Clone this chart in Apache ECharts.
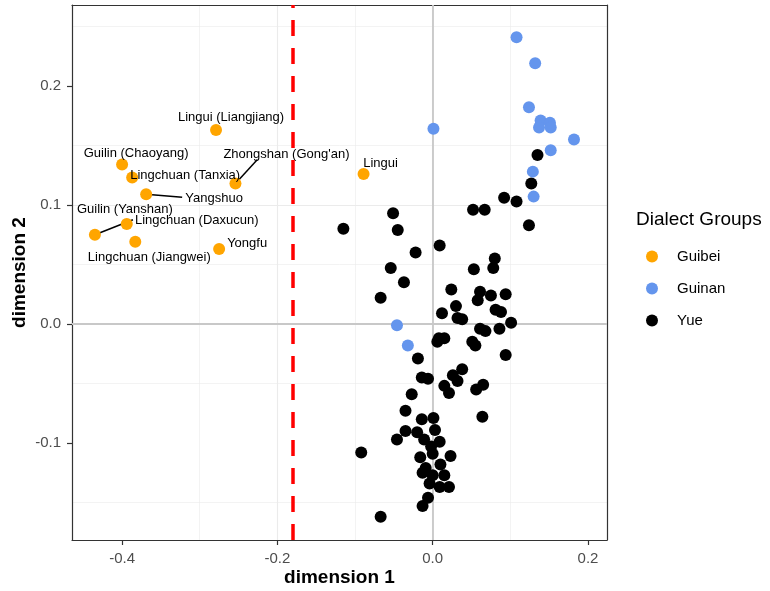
<!DOCTYPE html>
<html>
<head>
<meta charset="utf-8">
<title>Dialect Groups</title>
<script src="https://cdn.jsdelivr.net/npm/echarts@6/dist/echarts.min.js"></script>
<style>
  html, body { margin: 0; padding: 0; background: #fff; }
  #chart { width: 770px; height: 591px; }
</style>
</head>
<body>
<div id="chart"></div>
<script>
// Guibei sites (labelled)
const guibeiNames = ['Lingui (Liangjiang)', 'Guilin (Chaoyang)', 'Lingchuan (Tanxia)', "Zhongshan (Gong'an)", 'Yangshuo',
  'Lingchuan (Daxucun)', 'Guilin (Yanshan)', 'Lingchuan (Jiangwei)', 'Yongfu', 'Lingui'];
const guibeiX = [-0.279, -0.400, -0.387, -0.254, -0.369, -0.394, -0.435, -0.383, -0.275, -0.089];
const guibeiY = [0.163, 0.134, 0.123, 0.118, 0.109, 0.084, 0.075, 0.069, 0.063, 0.126];

// Guinan sites
const guinanX = [0.108, 0.132, 0.124, 0.139, 0.151, 0.137, 0.152, 0.001, 0.182, 0.152, 0.129, 0.130, -0.046, -0.032];
const guinanY = [0.241, 0.219, 0.182, 0.171, 0.169, 0.165, 0.165, 0.164, 0.155, 0.146, 0.128, 0.107, -0.001, -0.018];

// Yue sites
const yueX = [0.135, 0.127, 0.092, 0.108, -0.051, 0.052, 0.067, -0.115, -0.045, 0.124,
  0.009, -0.022, 0.080, 0.078, -0.054, 0.053, -0.037, 0.024, 0.061, 0.094,
  0.075, 0.058, -0.067, 0.030, 0.081, 0.088, 0.012, 0.032, 0.038, 0.101,
  0.061, 0.086, 0.068, 0.008, 0.015, 0.006, 0.051, 0.055, 0.094, -0.019,
  -0.014, -0.006, 0.038, 0.026, 0.032, 0.015, 0.021, 0.065, 0.056, -0.027,
  -0.035, 0.064, -0.014, 0.001, -0.035, -0.046, -0.020, 0.003, -0.011, 0.009,
  -0.002, 0.000, -0.016, 0.023, 0.010, -0.009, -0.013, 0.000, 0.015, -0.004,
  0.009, 0.021, -0.006, -0.013, -0.092, -0.067];
const yueY = [0.142, 0.118, 0.106, 0.103, 0.093, 0.096, 0.096, 0.080, 0.079, 0.083,
  0.066, 0.060, 0.055, 0.047, 0.047, 0.046, 0.035, 0.029, 0.027, 0.025,
  0.024, 0.020, 0.022, 0.015, 0.012, 0.010, 0.009, 0.005, 0.004, 0.001,
  -0.004, -0.004, -0.006, -0.012, -0.012, -0.015, -0.015, -0.018, -0.026, -0.029,
  -0.045, -0.046, -0.038, -0.043, -0.048, -0.052, -0.058, -0.051, -0.055, -0.059,
  -0.073, -0.078, -0.080, -0.079, -0.090, -0.097, -0.091, -0.089, -0.097, -0.099,
  -0.103, -0.109, -0.112, -0.111, -0.118, -0.121, -0.125, -0.127, -0.127, -0.134,
  -0.137, -0.137, -0.146, -0.153, -0.108, -0.162];

const cutoffX = -0.18;

// tick labels
const xTicks = [-0.4, -0.2, 0.0, 0.2];
const yTicks = [-0.1, 0.0, 0.1, 0.2];

// label nudges in px (label centre relative to its point)
const labelNudge = {
  'Lingui (Liangjiang)': [15, -13],
  'Guilin (Chaoyang)': [14, -11],
  'Lingchuan (Tanxia)': [53, -2],
  "Zhongshan (Gong'an)": [51, -29],
  'Yangshuo': [68, 4],
  'Lingchuan (Daxucun)': [70, -4],
  'Guilin (Yanshan)': [30, -25],
  'Lingchuan (Jiangwei)': [14, 16],
  'Yongfu': [28, -6],
  'Lingui': [17, -11]
};
// leader segments (px from the point to the label edge), only where ggrepel drew one
const leaderEnd = {
  "Zhongshan (Gong'an)": [22, -24],
  'Yangshuo': [36, 3],
  'Guilin (Yanshan)': [38, -15]
};

const FONT = "'Liberation Sans', Arial, Helvetica, sans-serif";

const pairs = (xs, ys) => xs.map((x, i) => [x, ys[i]]);

const chart = echarts.init(document.getElementById('chart'));

const X_MIN = -0.4645, X_MAX = 0.2245, Y_MIN = -0.1815, Y_MAX = 0.268;

const frameAxis = {
  type: 'value',
  axisLine: { show: true, onZero: false, lineStyle: { color: '#333', width: 1.2 } },
  axisTick: { show: false },
  axisLabel: { show: false },
  splitLine: { show: false }
};

const option = {
  animation: false,
  backgroundColor: '#fff',
  textStyle: { fontFamily: FONT },
  title: {
    text: 'Dialect Groups',
    left: 636,
    top: 210,
    padding: 0,
    textStyle: { fontFamily: FONT, fontSize: 19, fontWeight: 'normal', color: '#000' }
  },
  legend: {
    data: ['Guibei', 'Guinan', 'Yue'],
    orient: 'vertical',
    left: 646,
    top: 249,
    padding: 0,
    icon: 'circle',
    itemWidth: 40,
    itemHeight: 12,
    itemGap: 17,
    textStyle: { fontFamily: FONT, fontSize: 15, color: '#000' }
  },
  grid: {
    left: 72,
    right: 163,
    top: 5,
    bottom: 51,
    outerBoundsMode: 'none',
    containLabel: false,
    show: false
  },
  xAxis: [{
    type: 'value',
    min: X_MIN,
    max: X_MAX,
    splitNumber: 3,
    name: 'dimension 1',
    nameLocation: 'middle',
    nameGap: 28,
    nameMoveOverlap: false,
    nameTextStyle: { fontFamily: FONT, fontSize: 19, fontWeight: 'bold', color: '#000' },
    axisLine: { show: true, onZero: false, lineStyle: { color: '#333', width: 1.2 } },
    axisTick: { show: true, length: 5, customValues: xTicks, lineStyle: { color: '#333', width: 1.2 } },
    axisLabel: {
      margin: 11,
      fontFamily: FONT,
      fontSize: 15,
      color: '#4d4d4d',
      customValues: xTicks,
      formatter: v => v.toFixed(1)
    },
    splitLine: { show: true, showMinLine: false, showMaxLine: false, lineStyle: { color: '#ebebeb', width: 1.1 } },
    minorTick: { show: false, splitNumber: 2 },
    minorSplitLine: { show: true, lineStyle: { color: '#ebebeb', width: 0.6 } }
  }, Object.assign({}, frameAxis, { position: 'top', min: X_MIN, max: X_MAX })],
  yAxis: [{
    type: 'value',
    min: Y_MIN,
    max: Y_MAX,
    splitNumber: 5,
    name: 'dimension 2',
    nameLocation: 'middle',
    nameGap: 43,
    nameMoveOverlap: false,
    nameTextStyle: { fontFamily: FONT, fontSize: 19, fontWeight: 'bold', color: '#000' },
    axisLine: { show: true, onZero: false, lineStyle: { color: '#333', width: 1.2 } },
    axisTick: { show: true, length: 5, customValues: yTicks, lineStyle: { color: '#333', width: 1.2 } },
    axisLabel: {
      margin: 11,
      fontFamily: FONT,
      fontSize: 15,
      color: '#4d4d4d',
      customValues: yTicks,
      formatter: v => v.toFixed(1)
    },
    splitLine: { show: true, showMinLine: false, showMaxLine: false, lineStyle: { color: '#ebebeb', width: 1.1 } },
    minorTick: { show: false, splitNumber: 2 },
    minorSplitLine: { show: true, lineStyle: { color: '#ebebeb', width: 0.6 } }
  }, Object.assign({}, frameAxis, { position: 'right', min: Y_MIN, max: Y_MAX })],
  series: [
    {
      // zero reference lines
      type: 'scatter',
      name: 'ref',
      data: [],
      silent: true,
      markLine: {
        z: 1,
        silent: true,
        symbol: 'none',
        label: { show: false },
        data: [
          { xAxis: 0, lineStyle: { color: '#c8c8c8', width: 1.8, type: 'solid' } },
          { yAxis: 0, lineStyle: { color: '#c8c8c8', width: 1.8, type: 'solid' } }
        ]
      }
    },
    {
      type: 'scatter',
      name: 'Yue',
      data: pairs(yueX, yueY),
      symbolSize: 12,
      z: 3,
      itemStyle: { color: '#000000', opacity: 1 }
    },
    {
      type: 'scatter',
      name: 'Guinan',
      data: pairs(guinanX, guinanY),
      symbolSize: 12,
      z: 4,
      itemStyle: { color: '#6495ED', opacity: 1 }
    },
    {
      type: 'custom',
      name: 'leaders',
      silent: true,
      z: 4,
      data: guibeiX.map((x, i) => [x, guibeiY[i], i]),
      encode: { x: 0, y: 1 },
      renderItem: (params, api) => {
        const off = leaderEnd[guibeiNames[api.value(2)]];
        if (!off) return null;
        const p = api.coord([api.value(0), api.value(1)]);
        return {
          type: 'line',
          shape: { x1: p[0], y1: p[1], x2: p[0] + off[0], y2: p[1] + off[1] },
          style: { stroke: '#000', lineWidth: 1.5 }
        };
      }
    },
    {
      type: 'scatter',
      name: 'Guibei',
      data: guibeiX.map((x, i) => ({ name: guibeiNames[i], value: [x, guibeiY[i]] })),
      symbolSize: 12,
      z: 5,
      itemStyle: { color: '#FFA500', opacity: 1 },
      label: {
        show: true,
        position: 'inside',
        formatter: p => p.name,
        fontFamily: FONT,
        fontSize: 13,
        color: '#000'
      },
      labelLayout: p => {
        const n = labelNudge[guibeiNames[p.dataIndex]];
        return { dx: n[0], dy: n[1] };
      },
      markLine: {
        z: 6,
        silent: true,
        symbol: 'none',
        label: { show: false },
        data: [
          { xAxis: cutoffX, lineStyle: { color: '#ff0000', width: 3.5, type: [16, 12] } }
        ]
      }
    }
  ]
};

chart.setOption(option);
window.addEventListener('resize', () => chart.resize());
</script>
</body>
</html>
